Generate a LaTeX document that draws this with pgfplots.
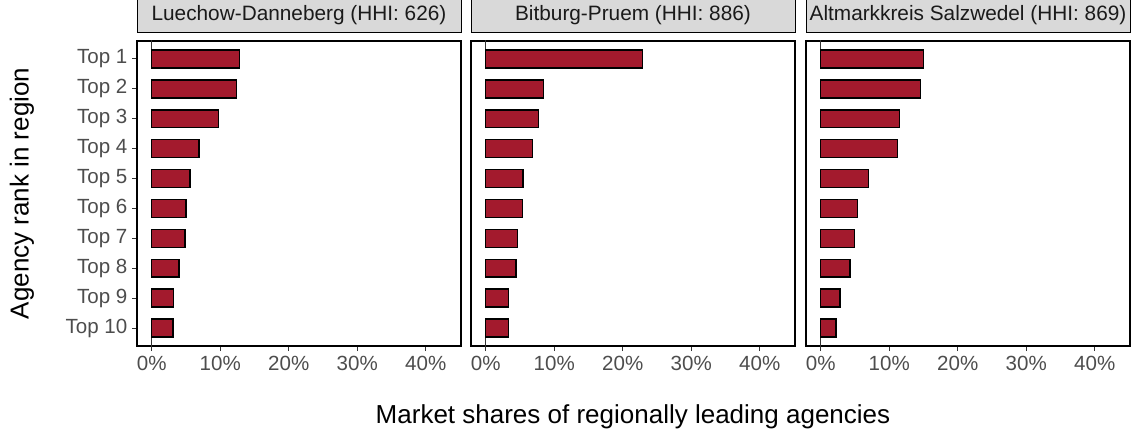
\documentclass[border=0pt]{standalone}
\usepackage{fontspec}
\setmainfont{Liberation Sans}
\usepackage{pgfplots}
\pgfplotsset{compat=1.18}

\definecolor{barred}{RGB}{163,26,45}
\definecolor{stripgray}{RGB}{217,217,217}
\definecolor{gray10}{RGB}{26,26,26}
\definecolor{gray20}{RGB}{51,51,51}
\definecolor{gray30}{RGB}{77,77,77}

% shares in percent, rank 1 = largest agency
\pgfplotstableread{
rank share
1 12.8
2 12.4
3 9.75
4 6.9
5 5.6
6 5.0
7 4.85
8 4.0
9 3.2
10 3.1
}\luechow
\pgfplotstableread{
rank share
1 22.9
2 8.45
3 7.7
4 6.8
5 5.45
6 5.35
7 4.6
8 4.4
9 3.35
10 3.3
}\bitburg
\pgfplotstableread{
rank share
1 15.0
2 14.6
3 11.5
4 11.2
5 7.0
6 5.4
7 4.9
8 4.3
9 2.8
10 2.2
}\salzwedel

\pgfplotsset{
  panel/.style={
    scale only axis, width=243pt, height=228.75pt, anchor=south west,
    xbar, bar width=0.6, bar shift=0pt,
    xmin=-2.15, xmax=45.15, ymin=0.4, ymax=10.6, y dir=reverse,
    axis line style={black, line width=0.9pt},
    tick align=outside, major tick length=3.75pt,
    tick style={gray20, line width=0.75pt},
    xtick pos=bottom, ytick pos=left,
    xtick={0,10,20,30,40},
    xticklabels={0\%,10\%,20\%,30\%,40\%},
    ticklabel style={font=\fontsize{15.4}{18}\selectfont, text=gray30},
    title style={at={(0.5,1)}, anchor=south, yshift=0pt, draw=black,
      line width=0.75pt, fill=stripgray, minimum width=243pt,
      minimum height=25.5pt, inner sep=0pt, text=gray10,
      font=\fontsize{15.6}{18}\selectfont},
    label style={font=\fontsize{19.5}{23}\selectfont, text=black},
  },
  sharebar/.style={draw=black, line width=1.1pt, fill=barred},
  zeroline/.style={gray20, line width=1pt, forget plot},
}

\begin{document}
\begin{tikzpicture}
\useasboundingbox (0,0) rectangle (849.75pt,324pt);

\begin{axis}[panel, at={(102.75pt,64.5pt)},
  title={Luechow-Danneberg (HHI: 626)},
  ytick={1,...,10},
  yticklabels={Top 1,Top 2,Top 3,Top 4,Top 5,Top 6,Top 7,Top 8,Top 9,Top 10},
  ylabel={Agency rank in region},
  ylabel style={at={(axis description cs:-0.355,0.5)}, anchor=center}]
\addplot[zeroline] coordinates {(0,0.4) (0,10.6)};
\addplot[sharebar] table[x=share, y=rank] {\luechow};
\end{axis}

\begin{axis}[panel, at={(353.25pt,64.5pt)},
  title={Bitburg-Pruem (HHI: 886)},
  ytick=\empty,
  xlabel={Market shares of regionally leading agencies},
  xlabel style={at={(axis description cs:0.5,-0.2525)}, anchor=base}]
\addplot[zeroline] coordinates {(0,0.4) (0,10.6)};
\addplot[sharebar] table[x=share, y=rank] {\bitburg};
\end{axis}

\begin{axis}[panel, at={(604.5pt,64.5pt)},
  title={Altmarkkreis Salzwedel (HHI: 869)},
  ytick=\empty]
\addplot[zeroline] coordinates {(0,0.4) (0,10.6)};
\addplot[sharebar] table[x=share, y=rank] {\salzwedel};
\end{axis}
\end{tikzpicture}
\end{document}
